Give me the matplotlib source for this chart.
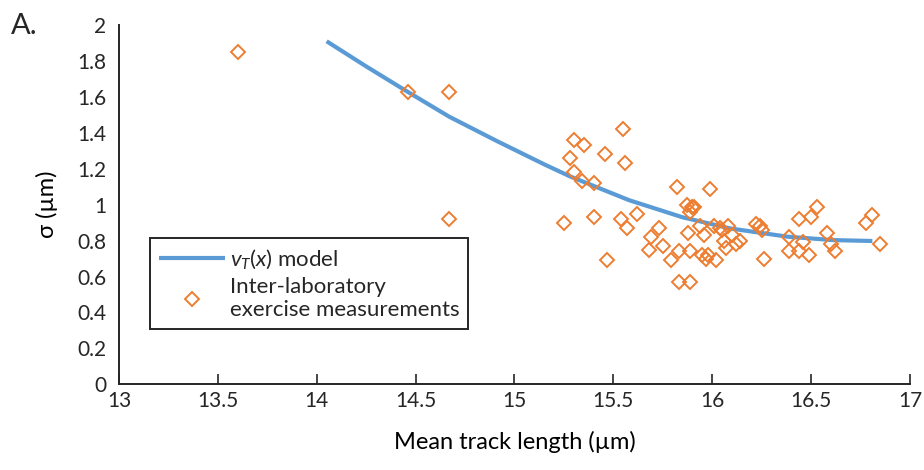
import matplotlib
matplotlib.use("Agg")
import matplotlib.pyplot as plt
from matplotlib.ticker import FuncFormatter, MultipleLocator

plt.rcParams["font.family"] = ["Lato", "DejaVu Sans"]
plt.rcParams["mathtext.fontset"] = "custom"
plt.rcParams["mathtext.it"] = "Lato:italic"
plt.rcParams["mathtext.rm"] = "Lato"
plt.rcParams["text.color"] = "#262626"

# model curve vT(x)
model_x = [14.05, 14.25, 14.45, 14.67, 14.91, 15.15, 15.28, 15.58, 15.85,
           16.09, 16.38, 16.61, 16.81]
model_y = [1.91, 1.77, 1.635, 1.49, 1.355, 1.225, 1.158, 1.025, 0.93,
           0.868, 0.822, 0.803, 0.798]

# inter-laboratory measurements
meas_x = [13.60, 14.46, 14.67, 14.67, 15.25, 15.28, 15.30, 15.30, 15.34, 15.35,
          15.40, 15.40, 15.46, 15.47, 15.54, 15.55, 15.56, 15.57, 15.62, 15.68,
          15.69, 15.73, 15.75, 15.79, 15.82, 15.83, 15.83, 15.87, 15.88, 15.89,
          15.89, 15.89, 15.90, 15.91, 15.94, 15.96, 15.95, 15.97, 15.98, 15.99,
          16.01, 16.02, 16.04, 16.05, 16.06, 16.07, 16.08, 16.10, 16.12, 16.14,
          16.22, 16.24, 16.25, 16.26, 16.39, 16.39, 16.44, 16.44, 16.46, 16.49,
          16.50, 16.53, 16.58, 16.60, 16.62, 16.78, 16.81, 16.85]
meas_y = [1.85, 1.63, 1.63, 0.92, 0.90, 1.26, 1.36, 1.18, 1.13, 1.33,
          1.12, 0.93, 1.28, 0.69, 0.92, 1.42, 1.23, 0.87, 0.95, 0.75,
          0.82, 0.87, 0.77, 0.69, 1.10, 0.74, 0.57, 1.00, 0.84, 0.74,
          0.57, 0.96, 0.99, 0.99, 0.88, 0.83, 0.72, 0.70, 0.72, 1.09,
          0.88, 0.69, 0.87, 0.86, 0.80, 0.76, 0.88, 0.83, 0.78, 0.80,
          0.89, 0.88, 0.86, 0.70, 0.82, 0.74, 0.92, 0.74, 0.79, 0.72,
          0.93, 0.99, 0.84, 0.78, 0.74, 0.90, 0.94, 0.78]

BLUE = "#5B9BD5"
ORANGE = "#ED7D31"
INK = "#262626"

fig = plt.figure(figsize=(9.24, 4.70), dpi=100)
ax = fig.add_axes([0.1288, 0.1823, 0.856, 0.7643])

ax.plot(model_x, model_y, color=BLUE, lw=3, solid_capstyle="butt",
        solid_joinstyle="round", label=r"$v_T$($x$) model", zorder=2)
ax.plot(meas_x, meas_y, ls="none", marker="D", ms=7, mfc="none",
        mec=ORANGE, mew=1.4, label="Inter-laboratory\nexercise measurements",
        zorder=3)

ax.set_xlim(13, 17)
ax.set_ylim(0, 2)
ax.xaxis.set_major_locator(MultipleLocator(0.5))
ax.yaxis.set_major_locator(MultipleLocator(0.2))
fmt = FuncFormatter(lambda v, p: f"{v:g}")
ax.xaxis.set_major_formatter(fmt)
ax.yaxis.set_major_formatter(fmt)

for s in ("top", "right"):
    ax.spines[s].set_visible(False)
for s in ("left", "bottom"):
    ax.spines[s].set_color(INK)
    ax.spines[s].set_linewidth(1.4)
ax.tick_params(axis="x", direction="in", length=7, width=1.2, color=INK,
               labelcolor=INK, labelsize=15, pad=5)
ax.tick_params(axis="y", length=0, labelcolor=INK, labelsize=15, pad=9)

ax.set_xlabel("Mean track length (µm)", fontsize=17, labelpad=14)
ax.set_ylabel("σ (µm)", fontsize=17, labelpad=14)

leg = ax.legend(loc="upper left", bbox_to_anchor=(0.039, 0.407),
                borderaxespad=0, fontsize=16, handlelength=3,
                fancybox=False, framealpha=1, edgecolor=INK,
                labelspacing=0.3, handletextpad=0.2, borderpad=0.4)
leg.get_frame().set_linewidth(1.4)

fig.text(0.012, 0.972, "A.", fontsize=21, va="top", ha="left")

fig.savefig("out.png", dpi=100)
